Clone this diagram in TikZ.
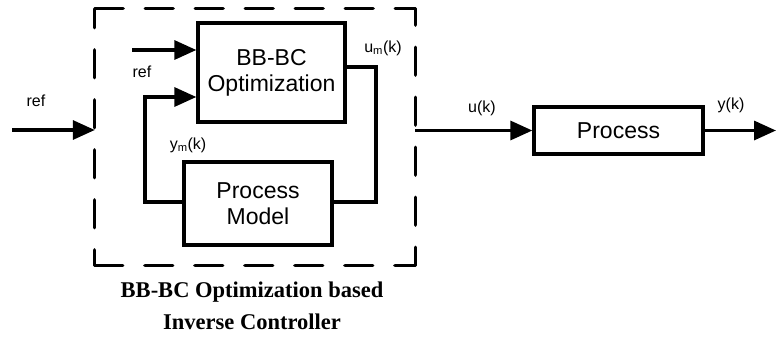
\documentclass[tikz,border=0pt]{standalone}
\usepackage{fontspec}
\setmainfont{Liberation Sans}
\newfontfamily\capfont{Liberation Serif}
\usetikzlibrary{arrows.meta}
\begin{document}
\begin{tikzpicture}[x=1pt,y=-1pt,
  blk/.style={draw,line width=3.3pt,inner sep=0pt,align=center,font=\fontsize{23}{26}\selectfont},
  lbl/.style={font=\fontsize{16}{18}\selectfont,inner sep=0pt},
  wire/.style={line width=3.3pt},
  arr/.style={line width=3.3pt,-{Triangle[length=22pt,width=19pt]}},
  frm/.style={line width=3.3pt,line cap=round,dash pattern=on 28pt off 22pt},
  capt/.style={font=\capfont\bfseries\fontsize{22.5}{25}\selectfont,inner sep=0pt}]
\useasboundingbox (0,0) rectangle (776,338);
\node[minimum width=320pt,minimum height=256pt,inner sep=0pt] (frame) at (255,137) {};
\draw[frm,dash phase=9pt] (frame.north west) -- (frame.south west);
\draw[frm,dash phase=0pt] (frame.south west) -- (frame.south east);
\draw[frm,dash phase=10pt] (frame.south east) -- (frame.north east);
\draw[frm,dash phase=8pt] (frame.north east) -- (frame.north west);
\node[blk,minimum width=147pt,minimum height=99pt] (bbbc) at (271.5,72.5) {BB-BC\\Optimization};
\node[blk,minimum width=148pt,minimum height=83pt] (pm) at (258,203.5) {Process\\Model};
\node[blk,minimum width=169pt,minimum height=47pt] (proc) at (618.5,130.5) {Process};
% inner ref
\coordinate (rin) at (132,50);
\draw[arr] (rin) -- (rin -| bbbc.west);
\node[lbl] (reflab) at (142,72) {ref};
% feedback ym
\coordinate (fbl) at (145,202);
\coordinate (fbt) at (145,97);
\draw[wire] (pm.west |- fbl) -- (fbl) -- (fbt);
\draw[arr] ([xshift=-1.65pt]fbt) -- (fbt -| bbbc.west);
\node[lbl] (ymlab) at (188,145) {y\textsubscript{m}(k)};
% um
\coordinate (umr) at (376,67);
\draw[wire] (bbbc.east |- umr) -- (umr) -- (376,202) -- (pm.east |- 0,202);
\node[lbl] (umlab) at (383,48) {u\textsubscript{m}(k)};
% outer ref
\coordinate (rout) at (12,130);
\draw[arr] (rout) -- (rout -| frame.west);
\node[lbl] (outref) at (36,101) {ref};
% u(k)
\draw[arr] (frame.east |- proc.west) -- (proc.west);
\node[lbl] (uklab) at (482,108) {u(k)};
% y(k)
\coordinate (yend) at (776,130.5);
\draw[arr] (proc.east) -- (yend);
\node[lbl] (yklab) at (731,105) {y(k)};
% caption
\node[capt] (cap1) at (252,292) {BB-BC Optimization based};
\node[capt] (cap2) at (252,322) {Inverse Controller};
\end{tikzpicture}
\end{document}
